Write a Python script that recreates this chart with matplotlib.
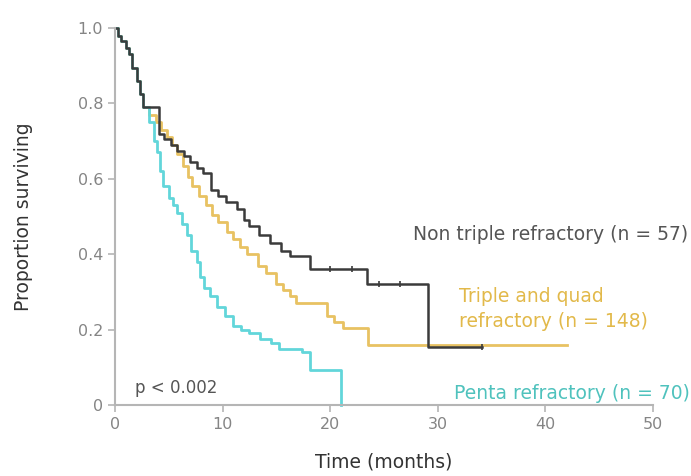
"""
Kaplan-Meier style survival curves by refractory group (values read off a figure).
Saves out.png.
"""

import matplotlib.pyplot as plt

# ---- curve values (time in months, proportion surviving) ----
NON_TRIPLE_T = [0, 0.3, 0.6, 1.0, 1.3, 1.6, 2.0, 2.3, 2.6, 4.1, 4.6, 5.2, 5.8, 6.4, 7.0,
                7.6, 8.2, 8.9, 9.6, 10.3, 11.3, 12.0, 12.5, 13.4, 14.4, 15.4, 16.3, 18.1,
                23.4, 29.1, 34.1]
NON_TRIPLE_S = [1.0, 0.98, 0.965, 0.947, 0.93, 0.895, 0.86, 0.825, 0.79, 0.72, 0.705, 0.69,
                0.675, 0.66, 0.645, 0.63, 0.615, 0.57, 0.555, 0.54, 0.52, 0.49, 0.475, 0.45,
                0.43, 0.41, 0.395, 0.36, 0.32, 0.155, 0.155]

TRIPLE_QUAD_T = [0, 0.3, 0.6, 1.0, 1.3, 1.6, 2.0, 2.3, 2.6, 3.2, 3.8, 4.3, 4.8, 5.3, 5.8,
                 6.3, 6.8, 7.2, 7.8, 8.5, 9.0, 9.6, 10.4, 11.0, 11.6, 12.3, 13.3, 14.0,
                 15.0, 15.6, 16.3, 16.8, 19.7, 20.4, 21.2, 23.5, 42.0]
TRIPLE_QUAD_S = [1.0, 0.98, 0.965, 0.947, 0.93, 0.895, 0.86, 0.825, 0.79, 0.77, 0.75, 0.73,
                 0.71, 0.69, 0.665, 0.635, 0.605, 0.58, 0.555, 0.53, 0.505, 0.485, 0.46,
                 0.44, 0.42, 0.40, 0.37, 0.35, 0.32, 0.305, 0.29, 0.27, 0.235, 0.22, 0.205,
                 0.16, 0.16]

PENTA_T = [0, 0.3, 0.6, 1.0, 1.3, 1.6, 2.0, 2.3, 2.6, 3.2, 3.6, 3.9, 4.2, 4.5, 5.0, 5.4,
           5.8, 6.2, 6.7, 7.1, 7.6, 7.9, 8.3, 8.8, 9.5, 10.2, 11.0, 11.7, 12.5, 13.5, 14.5,
           15.2, 17.4, 18.1, 21.0]
PENTA_S = [1.0, 0.98, 0.965, 0.947, 0.93, 0.895, 0.86, 0.825, 0.79, 0.75, 0.70, 0.67, 0.62,
           0.58, 0.55, 0.53, 0.51, 0.48, 0.45, 0.41, 0.38, 0.34, 0.31, 0.29, 0.26, 0.235,
           0.21, 0.2, 0.19, 0.175, 0.165, 0.15, 0.14, 0.093, 0.0]

# censor ticks on the non triple curve
CENSOR_T = [20.0, 22.0, 24.5, 26.5, 34.1]
CENSOR_S = [0.36, 0.36, 0.32, 0.32, 0.155]

X_TICKS = [0, 10, 20, 30, 40, 50]
Y_TICKS = [0, 0.2, 0.4, 0.6, 0.8, 1.0]
Y_TICKLABELS = ["0", "0.2", "0.4", "0.6", "0.8", "1.0"]

DARK = "#3b3b3b"
GOLD = "#e8c262"
CYAN = "#62d6da"
AXIS_GRAY = "#b5b5b5"
TICK_TEXT = "#858585"
TEXT_GRAY = "#555555"

plt.rcParams["font.family"] = ["DejaVu Sans"]

fig = plt.figure(figsize=(6.91, 4.76), dpi=100)
ax = fig.add_axes([0.1664, 0.149, 0.7786, 0.792])

ax.step(TRIPLE_QUAD_T, TRIPLE_QUAD_S, where="post", color=GOLD, lw=2.0, clip_on=False)
ax.step(PENTA_T, PENTA_S, where="post", color=CYAN, lw=2.0, clip_on=False)
ax.step(NON_TRIPLE_T, NON_TRIPLE_S, where="post", color=DARK, lw=1.8, clip_on=False)
ax.plot(CENSOR_T, CENSOR_S, ls="none", marker="|", ms=5, mew=1.2, color=DARK)

ax.set_xlim(0, 50)
ax.set_ylim(0, 1.0)
ax.set_xticks(X_TICKS)
ax.set_yticks(Y_TICKS)
ax.set_yticklabels(Y_TICKLABELS)

for side in ("top", "right"):
    ax.spines[side].set_visible(False)
for side in ("left", "bottom"):
    ax.spines[side].set_color(AXIS_GRAY)
    ax.spines[side].set_linewidth(1.5)
ax.tick_params(colors=AXIS_GRAY, labelcolor=TICK_TEXT, labelsize=11.5, length=5, width=1.2)

ax.set_xlabel("Time (months)", fontsize=13.5, color="#333333", labelpad=15)
ax.set_ylabel("Proportion surviving", fontsize=13.5, color="#333333", labelpad=32)

ax.text(53.3, 0.453, "Non triple refractory (n = 57)", color=TEXT_GRAY, fontsize=13.5,
        ha="right", va="center", clip_on=False)
ax.text(32.0, 0.255, "Triple and quad\nrefractory (n = 148)", color="#e2b94a",
        fontsize=13.5, ha="left", va="center", linespacing=1.4, clip_on=False)
ax.text(53.4, 0.032, "Penta refractory (n = 70)", color="#4fc2bd", fontsize=13.5,
        ha="right", va="center", clip_on=False)
ax.text(1.9, 0.045, "p < 0.002", color=TEXT_GRAY, fontsize=12, ha="left", va="center")

fig.savefig("out.png", dpi=100)
